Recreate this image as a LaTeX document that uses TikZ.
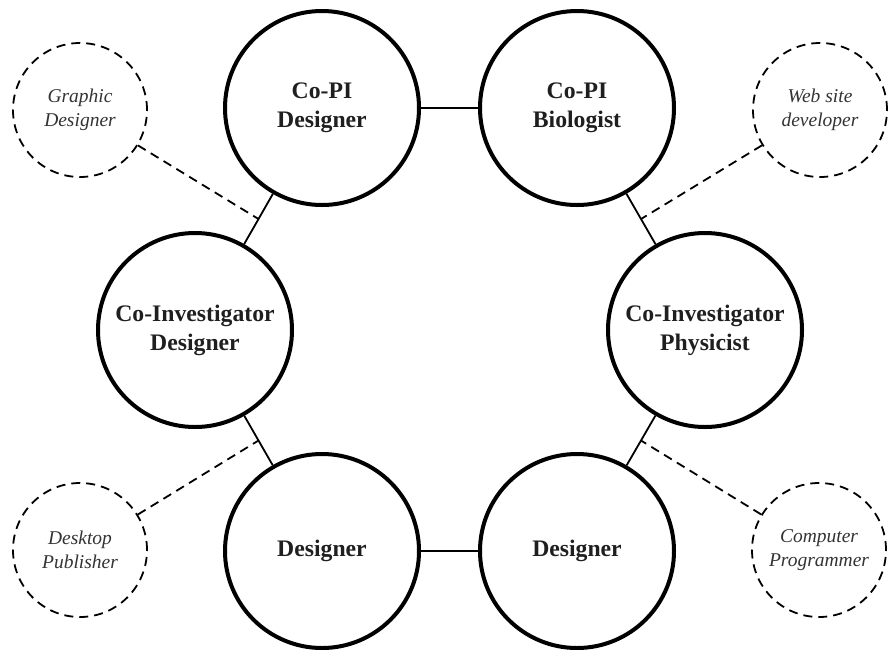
\documentclass[tikz,border=0pt]{standalone}
\usepackage{fontspec}
\setmainfont{Liberation Serif}
\usetikzlibrary{calc}
\begin{document}
\begin{tikzpicture}[x=1pt,y=-1pt,
  role/.style={circle,draw=black,line width=4pt,minimum size=194pt,inner sep=0pt,align=center,
    font=\fontsize{23.7}{29}\selectfont\bfseries,text=black!88},
  extra/.style={circle,draw=black,line width=1.8pt,dash pattern=on 9pt off 6pt,minimum size=134pt,inner sep=0pt,align=center,
    font=\fontsize{19.5}{24}\selectfont\itshape,text=black!80},
  link/.style={line width=1.8pt,black},
  dlink/.style={line width=1.8pt,black,dash pattern=on 9pt off 6pt}]
\useasboundingbox (0,0) rectangle (888,649);
\node[role] (A) at (322,108) {Co-PI\\Designer};
\node[role] (B) at (577,108) {Co-PI\\Biologist};
\node[role] (C) at (195,330) {Co-Investigator\\Designer};
\node[role] (D) at (705,330) {Co-Investigator\\Physicist};
\node[role] (E) at (322,551) {Designer};
\node[role] (F) at (577,551) {Designer};
\node[extra] (G) at (80,110) {Graphic\\Designer};
\node[extra] (W) at (820,110) {Web site\\developer};
\node[extra] (P) at (80,550) {Desktop\\Publisher};
\node[extra] (Q) at (819,550) {Computer\\Programmer};
\draw[link] (A) -- (B);
\draw[link] (E) -- (F);
\draw[link] (A) -- (C);
\draw[link] (C) -- (E);
\draw[link] (B) -- (D);
\draw[link] (D) -- (F);
\coordinate (ac) at ($(A)!0.5!(C)$);
\coordinate (ce) at ($(C)!0.5!(E)$);
\coordinate (bd) at ($(B)!0.5!(D)$);
\coordinate (df) at ($(D)!0.5!(F)$);
\draw[dlink] (G) -- (ac);
\draw[dlink] (P) -- (ce);
\draw[dlink] (W) -- (bd);
\draw[dlink] (Q) -- (df);
\end{tikzpicture}
\end{document}
